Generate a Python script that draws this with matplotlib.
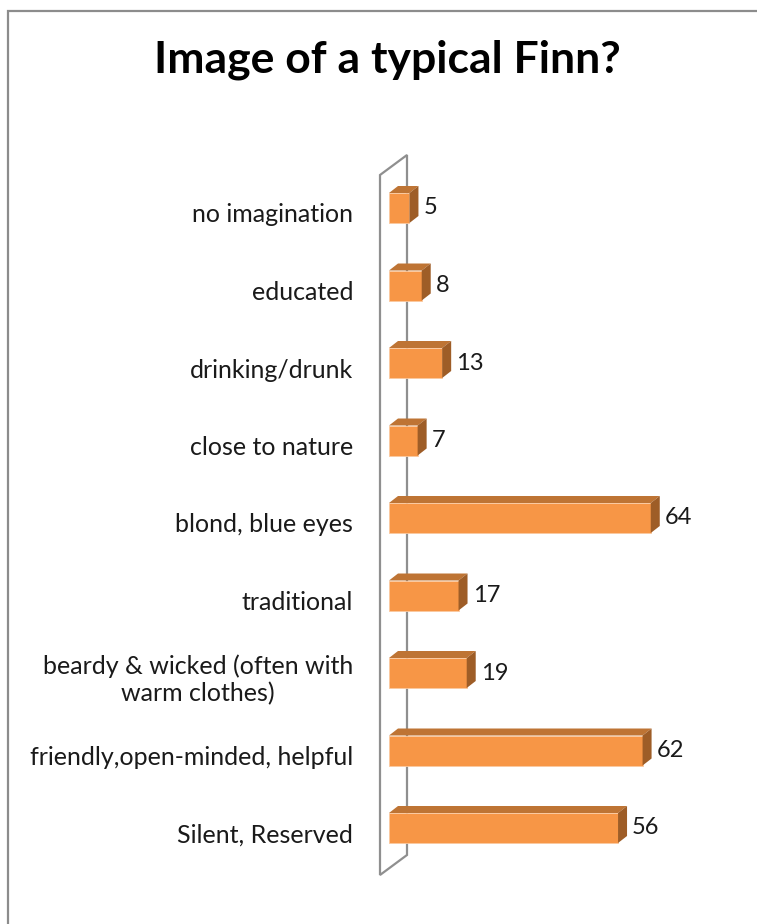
import matplotlib.pyplot as plt
from matplotlib.patches import Polygon, Rectangle

# data, top to bottom as in the picture
categories = ["no imagination", "educated", "drinking/drunk", "close to nature",
              "blond, blue eyes", "traditional",
              "beardy & wicked (often with\nwarm clothes)",
              "friendly,open-minded, helpful", "Silent, Reserved"]
values = [5, 8, 13, 7, 64, 17, 19, 62, 56]

W, H = 757, 924
FRONT = "#F79646"
TOP = "#BE7434"
SIDE = "#9E5D27"
FONT = "Lato"

fig = plt.figure(figsize=(W / 100, H / 100), dpi=100)
ax = fig.add_axes([0, 0, 1, 1])
ax.axis("off")

# pixel layout -> data units
x0_px, px_per_unit = 389, 4.09
ybot_px, row_px = 828, 77.5
ax.set_xlim(-x0_px / px_per_unit, (W - x0_px) / px_per_unit)
ax.set_ylim((ybot_px - H) / row_px, ybot_px / row_px)

def ux(px):
    return px / px_per_unit

def uy(px):
    return px / row_px

n = len(categories)
ypos = [n - 1 - i for i in range(n)]
bar_h = uy(30)
ddx, ddy = ux(9), uy(7)

# side wall
wx, wdx, wdy = ux(-9), ux(27), uy(20)
wb, wt = uy(-47), uy(653)
wall = Polygon([(wx, wb), (wx + wdx, wb + wdy), (wx + wdx, wt + wdy), (wx, wt)],
               closed=True, fill=False, ec="#8f8f8f", lw=1.6, zorder=1)
ax.add_patch(wall)

bars = ax.barh(ypos, values, height=bar_h, left=0, color=FRONT,
               edgecolor="#fbc9a0", lw=0.6, zorder=3)
for y, v in zip(ypos, values):
    y0, y1 = y - bar_h / 2, y + bar_h / 2
    ax.add_patch(Polygon([(0, y1), (ddx, y1 + ddy), (v + ddx, y1 + ddy), (v, y1)],
                         closed=True, color=TOP, lw=0, zorder=3))
    ax.add_patch(Polygon([(v, y0), (v + ddx, y0 + ddy), (v + ddx, y1 + ddy), (v, y1)],
                         closed=True, color=SIDE, lw=0, zorder=3))
    ax.text(v + ux(14), y, str(v), ha="left", va="center", fontsize=17,
            family=FONT, color="#1a1a1a")

for y, c in zip(ypos, categories):
    ax.text(ux(-36), y - uy(7), c, ha="right", va="center", multialignment="center",
            fontsize=18, family=FONT, color="#1a1a1a", linespacing=1.2)

fig.text(387 / W, 1 - 60 / H, "Image of a typical Finn?", ha="center", va="center",
         fontsize=32, fontweight="bold", family=FONT, color="black")

fig.add_artist(Rectangle((7.5 / W, -0.1), 2, 1.1 - 11 / H, transform=fig.transFigure,
                         fill=False, ec="#8c8c8c", lw=1.6))

fig.savefig("out.png", dpi=100, facecolor="white")
